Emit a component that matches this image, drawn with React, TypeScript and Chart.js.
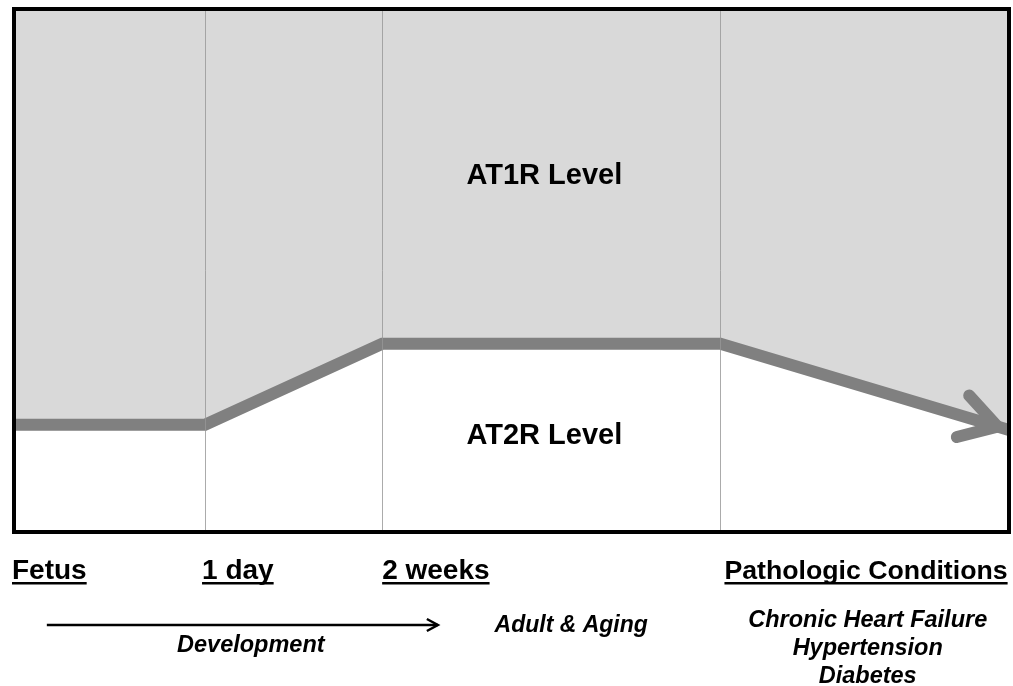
import React, { useEffect, useRef } from "react";
import { Chart, registerables } from "chart.js";

Chart.register(...registerables);

// Timeline position (0–100 across the panel) and relative AT2R share (0–100)
const ratioX = [0, 19.2, 37, 71, 100];
const ratioY = [20.5, 20.5, 36.0, 36.0, 19.5];

// Stage labels under the panel and their timeline positions
const stageLabels = ["Fetus", "1 day", "2 weeks", "Pathologic Conditions"];
const stageX = [0, 19.2, 37, 71];
const gridX = [19.2, 37, 71];

const upperLabel = "AT1R Level";
const lowerLabel = "AT2R Level";
const developmentLabel = "Development";
const adultLabel = "Adult & Aging";
const conditionLines = ["Chronic Heart Failure", "Hypertension", "Diabetes"];

const FONT = "'Liberation Sans', Arial, Helvetica, sans-serif";

const annotatePlugin = {
  id: "annotate",
  afterDatasetsDraw(chart: any) {
    const ctx = chart.ctx;
    const area = chart.chartArea;
    const xs = chart.scales.x;
    // arrow head at the end of the line
    const meta = chart.getDatasetMeta(0);
    const pts = meta.data;
    const n = pts.length;
    const a = pts[n - 2];
    const b = pts[n - 1];
    const dx = b.x - a.x;
    const dy = b.y - a.y;
    const len = Math.hypot(dx, dy);
    const ux = dx / len;
    const uy = dy / len;
    const tx = b.x - ux * 12;
    const ty = b.y - uy * 12;
    const back = Math.atan2(-uy, -ux);
    const ang = (31 * Math.PI) / 180;
    const armLen = 42;
    ctx.save();
    ctx.strokeStyle = "#808080";
    ctx.lineWidth = 12;
    ctx.lineCap = "round";
    ctx.lineJoin = "miter";
    ctx.beginPath();
    ctx.moveTo(tx + Math.cos(back + ang) * armLen, ty + Math.sin(back + ang) * armLen);
    ctx.lineTo(tx, ty);
    ctx.lineTo(tx + Math.cos(back - ang) * armLen, ty + Math.sin(back - ang) * armLen);
    ctx.stroke();

    // vertical stage grid lines (over fill and line)
    ctx.strokeStyle = "rgba(150,150,150,0.8)";
    ctx.lineWidth = 1;
    ctx.lineCap = "butt";
    gridX.forEach((v) => {
      const px = Math.round(xs.getPixelForValue(v)) + 0.5;
      ctx.beginPath();
      ctx.moveTo(px, area.top);
      ctx.lineTo(px, area.bottom);
      ctx.stroke();
    });
    ctx.restore();
  },
  afterDraw(chart: any) {
    const ctx = chart.ctx;
    const area = chart.chartArea;
    const xs = chart.scales.x;
    const ys = chart.scales.y;
    ctx.save();
    // frame
    ctx.strokeStyle = "#000";
    ctx.lineWidth = 4;
    ctx.strokeRect(area.left, area.top, area.right - area.left, area.bottom - area.top);

    // level labels
    ctx.fillStyle = "#000";
    ctx.textAlign = "center";
    ctx.textBaseline = "middle";
    ctx.font = `bold 29px ${FONT}`;
    ctx.fillText(upperLabel, xs.getPixelForValue(53.3), ys.getPixelForValue(68.1));
    ctx.fillText(lowerLabel, xs.getPixelForValue(53.3), ys.getPixelForValue(18.4));

    // stage labels
    ctx.textBaseline = "alphabetic";
    ctx.textAlign = "left";
    const offsets = [-2, -3, 0, 4];
    const sizes = [28, 28, 28, 26.7];
    stageLabels.forEach((lab, i) => {
      ctx.font = `bold ${sizes[i]}px ${FONT}`;
      const x0 = xs.getPixelForValue(stageX[i]) + offsets[i];
      const y0 = area.bottom + 47;
      ctx.fillText(lab, x0, y0);
      const w = ctx.measureText(lab).width;
      ctx.fillRect(x0, y0 + 3, w, 2.5);
    });

    // development arrow
    const ax0 = xs.getPixelForValue(3.3);
    const ax1 = xs.getPixelForValue(42.6);
    const ay = area.bottom + 93;
    ctx.strokeStyle = "#000";
    ctx.lineWidth = 2.5;
    ctx.lineCap = "butt";
    ctx.beginPath();
    ctx.moveTo(ax0, ay);
    ctx.lineTo(ax1, ay);
    ctx.stroke();
    ctx.lineJoin = "miter";
    ctx.beginPath();
    ctx.moveTo(ax1 - 11, ay - 6);
    ctx.lineTo(ax1, ay);
    ctx.lineTo(ax1 - 11, ay + 6);
    ctx.stroke();

    ctx.textAlign = "center";
    ctx.font = `italic bold 23.5px ${FONT}`;
    ctx.fillText(developmentLabel, xs.getPixelForValue(23.8), area.bottom + 120);
    ctx.font = `italic bold 23px ${FONT}`;
    ctx.fillText(adultLabel, xs.getPixelForValue(56.0), area.bottom + 100);
    ctx.font = `italic bold 23.5px ${FONT}`;
    conditionLines.forEach((t, i) => {
      ctx.fillText(t, xs.getPixelForValue(85.8), area.bottom + 95 + i * 28);
    });
    ctx.restore();
  },
};

export default function App() {
  const ref = useRef<HTMLCanvasElement | null>(null);
  useEffect(() => {
    if (!ref.current) return;
    const chart = new Chart(ref.current, {
      type: "line",
      data: {
        datasets: [
          {
            data: ratioX.map((x, i) => ({ x, y: ratioY[i] })),
            borderColor: "#808080",
            borderWidth: 12,
            borderJoinStyle: "miter",
            borderCapStyle: "butt",
            backgroundColor: "#d9d9d9",
            fill: "end",
            pointRadius: 0,
            tension: 0,
            clip: 0,
          } as any,
        ],
      },
      options: {
        animation: false,
        responsive: false,
        devicePixelRatio: 1,
        layout: { padding: { left: 14, top: 9, right: 4, bottom: 154 } },
        plugins: { legend: { display: false }, tooltip: { enabled: false } },
        scales: {
          x: { type: "linear", min: 0, max: 100, display: false },
          y: { type: "linear", min: 0, max: 100, display: false },
        },
      },
      plugins: [annotatePlugin],
    });
    return () => chart.destroy();
  }, []);
  return (
    <div style={{ position: "fixed", left: 0, top: 0, width: 1013, height: 686, background: "#fff" }}>
      <canvas ref={ref} width={1013} height={686} />
    </div>
  );
}
